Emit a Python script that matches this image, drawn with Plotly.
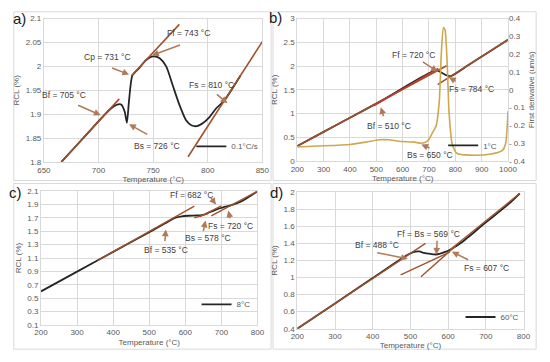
import plotly.graph_objects as go

# ---------------- data ----------------
# Panel a (0.1 °C/s)
a_T = [666, 680, 695, 705, 712, 717, 721, 724, 726, 728, 731, 737, 743, 747, 751, 756, 762, 768, 774, 780, 785, 790, 796, 802, 808, 815, 830]
a_R = [1.80, 1.835, 1.8725, 1.8975, 1.913, 1.92, 1.92, 1.905, 1.882, 1.93, 1.981, 1.996, 2.012, 2.019, 2.021, 2.017, 2.0, 1.96, 1.92, 1.888, 1.877, 1.875, 1.882, 1.895, 1.913, 1.928, 1.981]
a_tan1_T = [666, 719]; a_tan1_R = [1.80, 1.932]
a_tan2_T = [730, 774]; a_tan2_R = [1.98, 2.088]
a_tan3_T = [782, 850]; a_tan3_R = [1.811, 2.052]

# Panel b (1 °C)
b_T = [200, 300, 400, 510, 560, 620, 680, 720, 731, 745, 765, 784, 850, 920, 1000]
b_R = [0.315, 0.613, 0.912, 1.24, 1.40, 1.60, 1.79, 1.905, 1.91, 1.87, 1.81, 1.79, 2.023, 2.271, 2.555]
b_tan1_T = [200, 767]; b_tan1_R = [0.315, 2.007]
b_tan2_T = [490, 735]; b_tan2_R = [1.16, 1.95]
b_tan3_T = [733, 1000]; b_tan3_R = [1.61, 2.555]
b_dT = [200, 276, 400, 461, 511, 548, 585, 646, 671, 696, 714, 727, 739, 747, 755, 761, 770, 776, 788, 807, 856, 930, 979, 991, 1000]
b_dV = [-0.321, -0.316, -0.307, -0.294, -0.281, -0.281, -0.289, -0.294, -0.300, -0.285, -0.239, -0.203, -0.066, 0.208, 0.35, 0.336, 0.117, -0.12, -0.303, -0.358, -0.367, -0.362, -0.34, -0.303, -0.12]

# Panel c (8 °C)
c_T = [200, 300, 400, 500, 546, 560, 573, 590, 609, 630, 645, 655, 663, 675, 690, 705, 721, 740, 760, 780, 800]
c_R = [0.601, 0.896, 1.192, 1.487, 1.623, 1.67, 1.705, 1.725, 1.733, 1.737, 1.742, 1.755, 1.775, 1.80, 1.835, 1.86, 1.88, 1.915, 1.962, 2.03, 2.10]
c_tan1_T = [357, 625]; c_tan1_R = [1.063, 1.876]
c_tan2_T = [625, 662]; c_tan2_R = [1.70, 1.76]
c_tan3_T = [640, 700]; c_tan3_R = [1.72, 1.88]
c_tan4_T = [672, 800]; c_tan4_R = [1.73, 2.10]

# Panel d (60 °C)
d_T = [200, 300, 400, 489, 506, 523, 536, 554, 567, 579, 592, 605, 622, 640, 657, 690, 725, 760, 790]
d_R = [0.40, 0.697, 0.993, 1.257, 1.295, 1.306, 1.288, 1.276, 1.27, 1.28, 1.30, 1.326, 1.37, 1.425, 1.486, 1.61, 1.733, 1.86, 1.985]
d_tan1_T = [200, 540]; d_tan1_R = [0.40, 1.40]
d_tan2_T = [474, 605]; d_tan2_R = [1.03, 1.30]
d_tan3_T = [528, 620]; d_tan3_R = [1.01, 1.37]
d_tan4_T = [605, 790]; d_tan4_R = [1.326, 1.985]

# ---------------- style ----------------
BLACK = "#262626"
TAN = "#a0522d"
RED = "#c0392b"
ARROW = "#b07a5a"
GOLD = "#cfa74e"
GRID = "#d9d9d9"
TXT = "#595959"
FONT = "Liberation Sans, Arial, sans-serif"

W, H = 550, 362
def px(x0, x1):
    return [x0 / W, x1 / W]
def py(top, bottom):
    return [1 - bottom / H, 1 - top / H]

fig = go.Figure()

def line(x, y, xa, ya, color, width=1.6, name=None, legend=None, show=False):
    fig.add_trace(go.Scatter(x=x, y=y, xaxis=xa, yaxis=ya, mode="lines",
                             line=dict(color=color, width=width, shape="spline" if len(x) > 2 else "linear", smoothing=0.6),
                             name=name or "", showlegend=show, legend=legend, hoverinfo="skip"))

# panel a
line(a_T, a_R, "x", "y", BLACK, 1.8, "0.1°C/s", "legend", True)
for tx, ty in [(a_tan1_T, a_tan1_R), (a_tan2_T, a_tan2_R), (a_tan3_T, a_tan3_R)]:
    line(tx, ty, "x", "y", TAN, 1.6)

# panel b
line(b_dT, b_dV, "x2", "y3", GOLD, 1.6)
line(b_T, b_R, "x2", "y2", BLACK, 1.8, "1°C", "legend2", True)
line(b_tan1_T, b_tan1_R, "x2", "y2", TAN, 1.6)
line(b_tan2_T, b_tan2_R, "x2", "y2", RED, 1.4)
line(b_tan3_T, b_tan3_R, "x2", "y2", TAN, 1.6)

# panel c
line(c_T, c_R, "x3", "y4", BLACK, 1.8, "8°C", "legend3", True)
for tx, ty in [(c_tan1_T, c_tan1_R), (c_tan2_T, c_tan2_R), (c_tan3_T, c_tan3_R), (c_tan4_T, c_tan4_R)]:
    line(tx, ty, "x3", "y4", TAN, 1.4)

# panel d
line(d_T, d_R, "x4", "y5", BLACK, 1.8, "60°C", "legend4", True)
for tx, ty in [(d_tan1_T, d_tan1_R), (d_tan2_T, d_tan2_R), (d_tan3_T, d_tan3_R), (d_tan4_T, d_tan4_R)]:
    line(tx, ty, "x4", "y5", TAN, 1.4)

# ---------------- axes ----------------
tickfont = dict(size=8, color=TXT, family=FONT)
titlefont = dict(size=8, color=TXT, family=FONT)

def xaxis(dom, rng, dtick, anchor):
    return dict(domain=dom, range=rng, dtick=dtick, tick0=rng[0], anchor=anchor,
                showgrid=True, gridcolor=GRID, gridwidth=1, zeroline=False,
                showline=True, linecolor=GRID, mirror=True, ticks="",
                tickfont=tickfont, title=dict(text="Temperature (°C)", font=titlefont, standoff=2))

def yaxis(dom, rng, dtick, anchor):
    return dict(domain=dom, range=rng, dtick=dtick, tick0=rng[0], anchor=anchor,
                showgrid=True, gridcolor=GRID, gridwidth=1, zeroline=False,
                showline=True, linecolor=GRID, mirror=True, ticks="",
                tickfont=tickfont, title=dict(text="RCL (%)", font=titlefont, standoff=4))

fig.update_layout(
    xaxis=xaxis(px(38, 263), [650, 850], 50, "y"),
    yaxis=yaxis(py(15, 162), [1.8, 2.1], 0.05, "x"),
    xaxis2=xaxis(px(299, 516), [200, 1000], 100, "y2"),
    yaxis2=yaxis(py(15, 161), [0, 3], 0.5, "x2"),
    yaxis3=dict(overlaying="y2", side="right", anchor="x2", range=[-0.4, 0.4],
                tickvals=[-0.4, -0.3, -0.2, -0.1, 0, 0.1, 0.2, 0.3, 0.4],
                ticktext=["- 0.4", "- 0.3", "- 0.2", "- 0.1", "0", "0.1", "0.2", "0.3", "0.4"],
                showgrid=False, zeroline=False, showline=False, ticks="",
                tickfont=tickfont, title=dict(text="First derivative (um/s)", font=titlefont, standoff=3)),
    xaxis3=xaxis(px(35, 258), [200, 800], 100, "y4"),
    yaxis4=yaxis(py(192, 329), [0.1, 2.1], 0.2, "x3"),
    xaxis4=xaxis(px(299, 532), [200, 800], 100, "y5"),
    yaxis5=yaxis(py(193, 333), [0.4, 2.0], 0.2, "x4"),
)

# ---------------- legends ----------------
def leg(xr, ytop):
    return dict(x=xr / W, y=1 - ytop / H, xanchor="right", yanchor="middle",
                bgcolor="rgba(0,0,0,0)", font=dict(size=8, color=TXT, family=FONT),
                itemwidth=30, tracegroupgap=0)
fig.update_layout(legend=leg(264, 146), legend2=leg(510, 145), legend3=leg(256, 308), legend4=leg(533, 321))

# ---------------- annotations ----------------
ann = []
def label(xa, ya, x, y, text):
    ann.append(dict(xref=xa, yref=ya, x=x, y=y, text=text, showarrow=False,
                    font=dict(size=8.5, color="#404040", family=FONT)))
def arrow(xa, ya, x0, y0, x1, y1):
    ann.append(dict(xref=xa, yref=ya, axref=xa, ayref=ya, x=x1, y=y1, ax=x0, ay=y0,
                    text="", showarrow=True, arrowhead=2, arrowsize=0.9, arrowwidth=1.5, arrowcolor=ARROW))

# panel a
label("x", "y", 782, 2.069, "Ff = 743 °C"); arrow("x", "y", 776, 2.046, 749, 2.023)
label("x", "y", 708, 2.019, "Cp = 731 °C"); arrow("x", "y", 711, 1.998, 728, 1.983)
label("x", "y", 668, 1.94, "Bf = 705 °C"); arrow("x", "y", 680, 1.92, 702, 1.898)
label("x", "y", 754, 1.833, "Bs = 726 °C"); arrow("x", "y", 746, 1.856, 728, 1.879)
label("x", "y", 803, 1.962, "Fs = 810 °C"); arrow("x", "y", 807, 1.944, 818, 1.923)
# panel b
label("x2", "y2", 643, 2.233, "Ff = 720 °C"); arrow("x2", "y2", 671, 2.11, 733, 1.884)
label("x2", "y2", 862, 1.51, "Fs = 784 °C"); arrow("x2", "y2", 807, 1.664, 776, 1.767)
label("x2", "y2", 548, 0.74, "Bf = 510 °C"); arrow("x2", "y2", 529, 0.91, 517, 1.13)
label("x2", "y2", 702, 0.123, "Bs = 650 °C"); arrow("x2", "y2", 708, 0.26, 671, 0.35)
# panel c
label("x3", "y4", 617, 2.037, "Ff = 682 °C"); arrow("x3", "y4", 667, 2.03, 685, 1.90)
label("x3", "y4", 725, 1.584, "Fs = 720 °C"); arrow("x3", "y4", 725, 1.67, 719, 1.81)
label("x3", "y4", 663, 1.394, "Bs = 578 °C"); arrow("x3", "y4", 649, 1.48, 656, 1.66)
label("x3", "y4", 546, 1.224, "Bf = 535 °C"); arrow("x3", "y4", 543, 1.33, 546, 1.526)
# panel d
label("x4", "y5", 412, 1.383, "Bf = 488 °C"); arrow("x4", "y5", 408, 1.295, 493, 1.219)
label("x4", "y5", 548, 1.505, "Ff = Bs = 569 °C"); arrow("x4", "y5", 571, 1.448, 569, 1.269)
label("x4", "y5", 701, 1.116, "Fs = 607 °C"); arrow("x4", "y5", 657, 1.2, 610, 1.303)

# panel letters
for t, x, y in [("a)", 13, 15), ("b)", 277, 14), ("c)", 9, 193), ("d)", 278, 193)]:
    ann.append(dict(xref="paper", yref="paper", x=x / W, y=1 - y / H, text=t, showarrow=False,
                    xanchor="center", yanchor="middle",
                    font=dict(size=15, color="#1a1a1a", family=FONT)))
fig.update_layout(annotations=ann)

# panel frames
shapes = []
for x0, y0, x1, y1 in [(7, 8, 272, 181), (274, 8, 545, 181), (7, 184, 272, 354), (274, 184, 545, 354)]:
    shapes.append(dict(type="rect", xref="paper", yref="paper", x0=x0 / W, x1=x1 / W,
                       y0=1 - y1 / H, y1=1 - y0 / H, line=dict(color=GRID, width=1), layer="below"))
fig.update_layout(shapes=shapes)

fig.update_layout(width=W, height=H, margin=dict(l=0, r=0, t=0, b=0),
                  paper_bgcolor="white", plot_bgcolor="white", font=dict(family=FONT))

fig.write_html("out.html", config={"displayModeBar": False},
               post_script="document.body.style.margin='0';document.body.style.padding='0';")
